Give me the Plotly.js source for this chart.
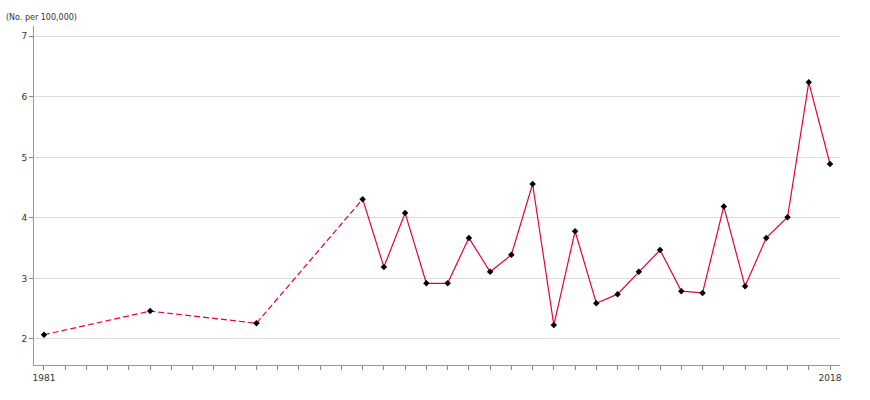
<!DOCTYPE html>
<html><head><meta charset="utf-8">
<script src="https://cdn.plot.ly/plotly-3.0.1.min.js"></script>
<style>body{margin:0;background:#fff}#chart{width:870px;height:400px}</style>
</head><body><div id="chart"></div>
<script>
const gapYears = [1981, 1986, 1991, 1996];
const gapValues = [2.07, 2.46, 2.26, 4.31];
const annualYears = [1996,1997,1998,1999,2000,2001,2002,2003,2004,2005,2006,2007,2008,2009,2010,2011,2012,2013,2014,2015,2016,2017,2018];
const annualValues = [4.31,3.19,4.08,2.92,2.92,3.67,3.11,3.39,4.56,2.23,3.78,2.59,2.74,3.11,3.47,2.79,2.76,4.19,2.87,3.67,4.01,6.24,4.89];
const yTicks = [2,3,4,5,6,7];
const labelledYears = [1981, 2018];
const yLabel = "(No. per 100,000)";

const allYears = [];
for (let y = 1981; y <= 2018; y++) allYears.push(y);
const xTickText = allYears.map(y => labelledYears.includes(y) ? String(y) : "");

const red = "#e8003c";
const traces = [
  {x: gapYears, y: gapValues, mode: "lines", line: {color: red, width: 1.2, dash: "6px,3px"}, hoverinfo: "skip"},
  {x: annualYears, y: annualValues, mode: "lines", line: {color: red, width: 1.2}, hoverinfo: "skip"},
  {x: gapYears.concat(annualYears.slice(1)), y: gapValues.concat(annualValues.slice(1)), mode: "markers",
   marker: {symbol: "diamond", size: 5, color: "#000"}}
];
const layout = {
  width: 870, height: 400,
  margin: {l: 34, r: 30, t: 26, b: 35},
  showlegend: false,
  paper_bgcolor: "#fff", plot_bgcolor: "#fff",
  font: {family: "DejaVu Sans, sans-serif", size: 9, color: "#333"},
  xaxis: {range: [1980.53, 2018.47], tickvals: allYears, ticktext: xTickText,
    ticks: "outside", ticklen: 4, tickcolor: "#888", showgrid: false, zeroline: false,
    showline: true, linecolor: "#999", linewidth: 1, tickfont: {size: 9, color: "#333"}},
  yaxis: {range: [1.57, 7.17], tickvals: yTicks, ticks: "outside", ticklen: 4, tickcolor: "#888",
    showgrid: true, gridcolor: "#ddd", gridwidth: 1, zeroline: false,
    showline: true, linecolor: "#999", linewidth: 1, tickfont: {size: 9, color: "#333"}},
  annotations: [{text: yLabel, xref: "paper", yref: "paper", x: -30/806, y: 1, xanchor: "left", yanchor: "bottom",
    yshift: 2, showarrow: false, font: {size: 8, color: "#333"}}]
};
Plotly.newPlot("chart", traces, layout, {displayModeBar: false, staticPlot: true});
</script></body></html>
